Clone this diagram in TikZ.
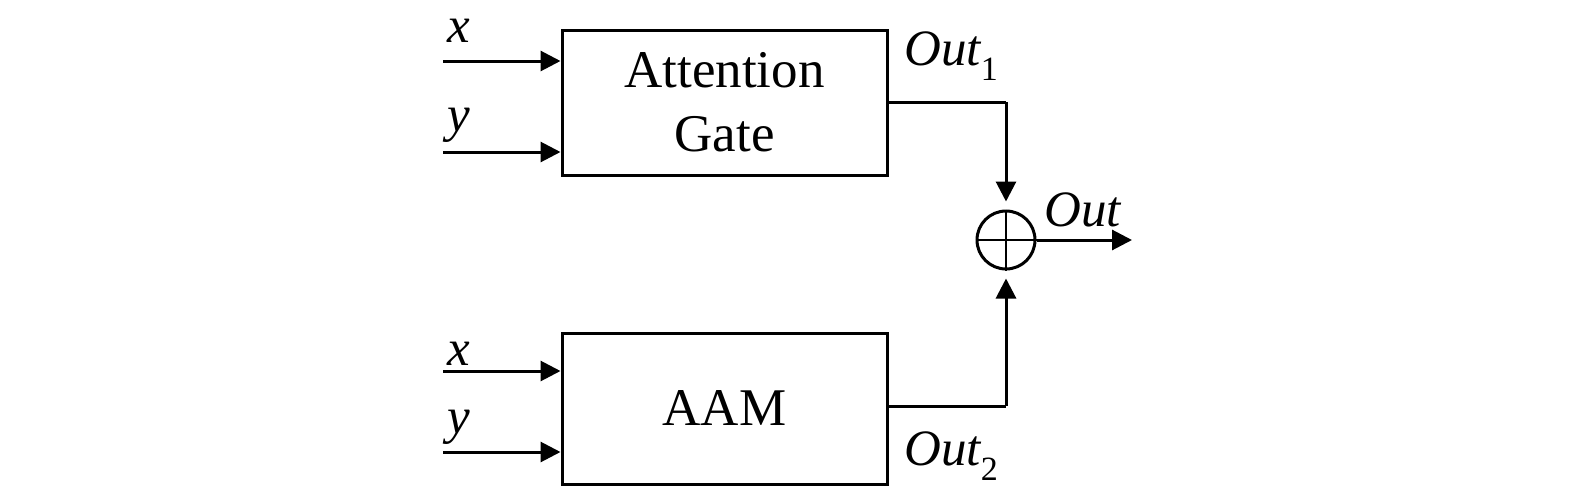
\documentclass[tikz,border=0pt]{standalone}
\usepackage{fontspec}
\setmainfont{Liberation Serif}
\usetikzlibrary{arrows.meta,calc}
\newcommand{\subnum}[1]{\raisebox{-0.28em}{\upshape\fontsize{17}{17}\selectfont #1}}
\begin{document}
\begin{tikzpicture}[x=0.5pt,y=-0.5pt,
  blk/.style={draw,line width=1.5pt,minimum width=162.5pt,align=center,inner sep=0pt,font=\fontsize{26.5}{32}\selectfont},
  lab/.style={inner sep=0pt,font=\fontsize{25.5}{30}\selectfont\itshape},
  conn/.style={line width=1.5pt},
  arr/.style={line width=1.5pt,-{Triangle[length=10pt,width=10pt]}}]
\useasboundingbox (0,0) rectangle (1575,487);
\node[blk,minimum height=72.5pt] (ag) at (724.5,102.5) {Attention\\Gate};
\node[blk,minimum height=75.5pt] (aam) at (724.5,408.5) {AAM};
\node[draw,circle,line width=1.5pt,minimum size=29pt,inner sep=0pt] (sum) at (1006,240) {};
\draw[line width=0.9pt] (sum.north) -- (sum.south) (sum.west) -- (sum.east);
% inputs
\coordinate (ax1) at (443,61);
\coordinate (ay1) at (443,152);
\coordinate (ax2) at (443,371);
\coordinate (ay2) at (443,452);
\draw[arr] (ax1) -- (ax1 -| ag.west);
\draw[arr] (ay1) -- (ay1 -| ag.west);
\draw[arr] (ax2) -- (ax2 -| aam.west);
\draw[arr] (ay2) -- (ay2 -| aam.west);
\node[lab] (lx1) at (459,31) {x};
\node[lab] (ly1) at (459,125) {y};
\node[lab] (lx2) at (459,354) {x};
\node[lab] (ly2) at (459,427) {y};
% outputs
\coordinate (o1) at (887,102);
\coordinate (o2) at (887,406);
\draw[conn] (o1) -- (o1 -| sum.north);
\draw[arr,shorten >=4pt] (o1 -| sum.north) -- (sum.north);
\draw[conn] (o2) -- (o2 -| sum.south);
\draw[arr,shorten >=4pt] (o2 -| sum.south) -- (sum.south);
\coordinate (oend) at (1132,240);
\draw[arr] (sum.east) -- (oend);
\node[lab,anchor=west] (lo1) at (904,56) {Out\subnum{1}};
\node[lab,anchor=west] (lo2) at (904,456) {Out\subnum{2}};
\node[lab,anchor=west] (lo) at (1044,210) {Out};
\end{tikzpicture}
\end{document}
